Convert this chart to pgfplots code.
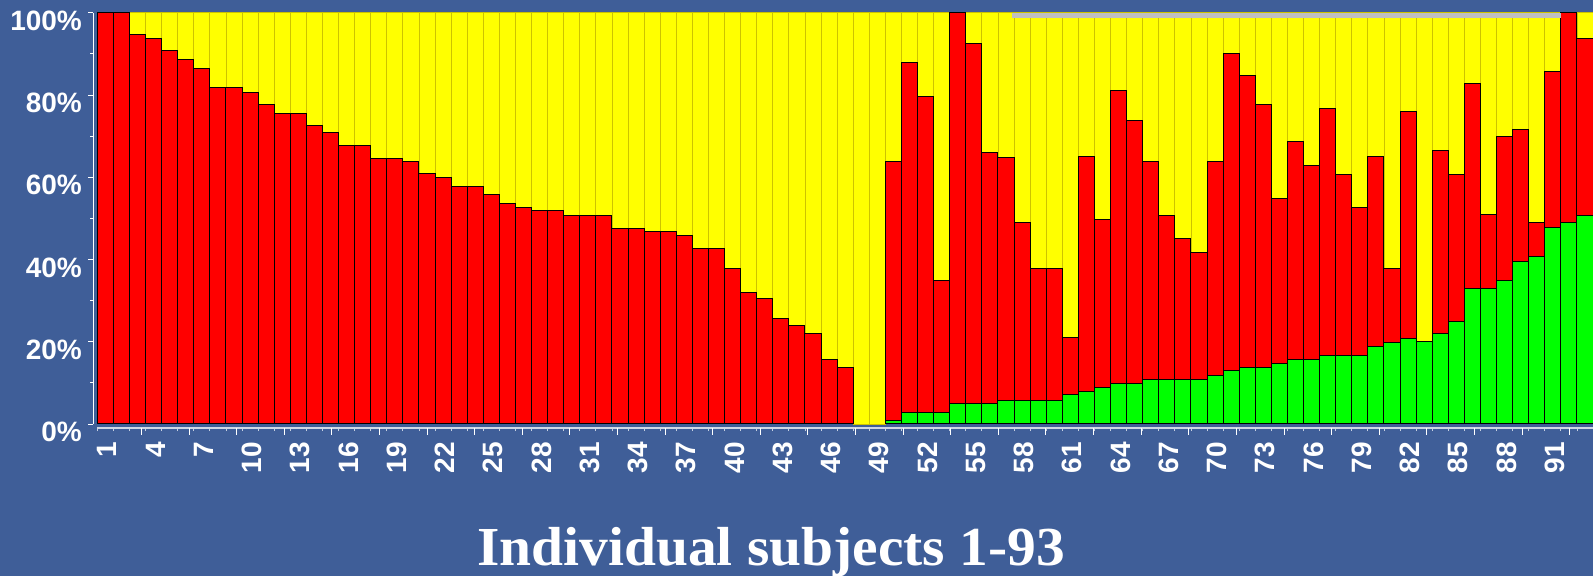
\documentclass[border=0pt]{standalone}
\usepackage{fontspec}
\setmainfont{Liberation Sans}
\newfontfamily\titlefont{Liberation Serif}
\usepackage{pgfplots}
\usepackage{pgfplotstable}
\pgfplotsset{compat=1.18}
\definecolor{bgblue}{RGB}{63,94,152}
\definecolor{barred}{RGB}{255,0,0}
\definecolor{baryellow}{RGB}{255,255,0}
\definecolor{bargreen}{RGB}{0,255,0}
\definecolor{yedge}{RGB}{205,195,0}
\definecolor{wallgray}{RGB}{192,192,192}

% subject, green, red, yellow (percent of total)
\pgfplotstableread{
s g r y
1 0 100 0
2 0 100 0
3 0 94.7 5.3
4 0 93.8 6.2
5 0 90.9 9.1
6 0 88.7 11.3
7 0 86.5 13.5
8 0 81.9 18.1
9 0 81.9 18.1
10 0 80.7 19.3
11 0 77.7 22.3
12 0 75.5 24.5
13 0 75.5 24.5
14 0 72.6 27.4
15 0 70.9 29.1
16 0 67.6 32.4
17 0 67.6 32.4
18 0 64.6 35.4
19 0 64.6 35.4
20 0 63.7 36.3
21 0 60.9 39.1
22 0 60.0 40.0
23 0 57.8 42.2
24 0 57.8 42.2
25 0 55.7 44.3
26 0 53.6 46.4
27 0 52.7 47.3
28 0 51.9 48.1
29 0 51.9 48.1
30 0 50.6 49.4
31 0 50.6 49.4
32 0 50.6 49.4
33 0 47.6 52.4
34 0 47.6 52.4
35 0 46.8 53.2
36 0 46.8 53.2
37 0 45.9 54.1
38 0 42.6 57.4
39 0 42.6 57.4
40 0 37.9 62.1
41 0 32.0 68.0
42 0 30.6 69.4
43 0 25.7 74.3
44 0 24.0 76.0
45 0 21.9 78.1
46 0 15.8 84.2
47 0 13.8 86.2
48 0 0 100
49 0 0 100
50 0.8 62.9 36.3
51 2.8 85.1 12.1
52 2.8 76.9 20.3
53 2.8 32.2 65.0
54 4.9 95.1 0
55 4.9 87.6 7.5
56 4.9 61.0 34.1
57 5.8 58.9 35.3
58 5.8 43.1 51.1
59 5.8 32.0 62.2
60 5.8 32.0 62.2
61 7.1 13.9 79.0
62 7.9 57.1 35.0
63 8.8 40.9 50.3
64 9.9 71.1 19.0
65 9.9 63.8 26.3
66 10.9 52.8 36.3
67 10.9 39.9 49.2
68 10.9 34.2 54.9
69 10.9 30.8 58.3
70 11.7 52.0 36.3
71 13.0 77.0 10.0
72 13.8 71.0 15.2
73 13.8 63.8 22.4
74 14.6 40.2 45.2
75 15.8 52.9 31.3
76 15.8 47.1 37.1
77 16.7 60.1 23.2
78 16.7 43.9 39.4
79 16.7 36.0 47.3
80 18.8 46.2 35.0
81 19.8 18.0 62.2
82 20.9 55.0 24.1
83 20.1 0 79.9
84 22.0 44.6 33.4
85 24.8 35.9 39.3
86 32.9 49.8 17.3
87 32.9 18.0 49.1
88 35.0 35.0 30.0
89 39.5 32.2 28.3
90 40.8 8.1 51.1
91 47.7 38.0 14.3
92 48.9 51.1 0
93 50.6 43.2 6.2
}\subj

\begin{document}
\begin{tikzpicture}
\fill[bgblue] (-48.65pt,-76pt) rectangle (747.85pt,212pt);
\useasboundingbox (-48.65pt,-76pt) rectangle (747.85pt,212pt);
\begin{axis}[
    at={(0,0)}, anchor=south west,
    scale only axis,
    width=747.85pt, height=205.65pt,
    ybar stacked,
    bar width=1,
    xmin=0.5, xmax=93.5,
    ymin=0, ymax=100,
    axis x line*=bottom,
    axis y line*=left,
    axis x line shift=2pt,
    axis y line shift=2pt,
    axis line style={white, line width=0.6pt, -},
    x axis line style={draw=white!75!bgblue},
    xtick={1,4,...,91},
    minor xtick={0.5,1.5,...,93.5},
    ytick={0,20,...,100},
    minor ytick={10,30,...,90},
    tick align=outside,
    major tick length=2.5pt,
    minor tick length=1.6pt,
    xtick style={draw=none},
    minor x tick style={draw=white!70!bgblue, thin},
    ytick style={draw=white, thin},
    minor y tick style={draw=white, thin},
    extra x ticks={3.24,6.2,...,92.2},
    extra x tick labels={},
    extra x tick style={xtick style={draw=white, thin}, major tick length=3.5pt},
    /pgf/number format/assume math mode=true,
    yticklabel={\pgfmathprintnumber{\tick}\%},
    yticklabel style={font=\bfseries\fontsize{14}{16}\selectfont, text=white,
        anchor=east, inner sep=0pt, xshift=-3pt, yshift=-4pt},
    xticklabel style={font=\bfseries\fontsize{14}{16}\selectfont, text=white,
        yshift=-4.5pt, xshift=1pt, rotate=90, anchor=east, inner sep=0pt},
    clip=false,
]
\addplot[fill=bargreen, draw=black, line width=0.5pt] table[x=s, y=g] {\subj};
\addplot[fill=barred, draw=black, line width=0.5pt] table[x=s, y=r] {\subj};
\addplot[fill=baryellow, draw=yedge, line width=0.4pt] table[x=s, y=y] {\subj};
\coordinate (wallL) at (axis cs:57.4,98.8);
\coordinate (wallR) at (axis cs:91.5,100);
\end{axis}
% light back-wall strip along the top
\fill[wallgray] (wallL) rectangle (wallR);
\node[anchor=base, text=white, font=\titlefont\bfseries\fontsize{27.5}{30}\selectfont]
    at (336.9pt,-71pt) {\scalebox{1.045}[1]{Individual subjects 1-93}};
\end{tikzpicture}
\end{document}
